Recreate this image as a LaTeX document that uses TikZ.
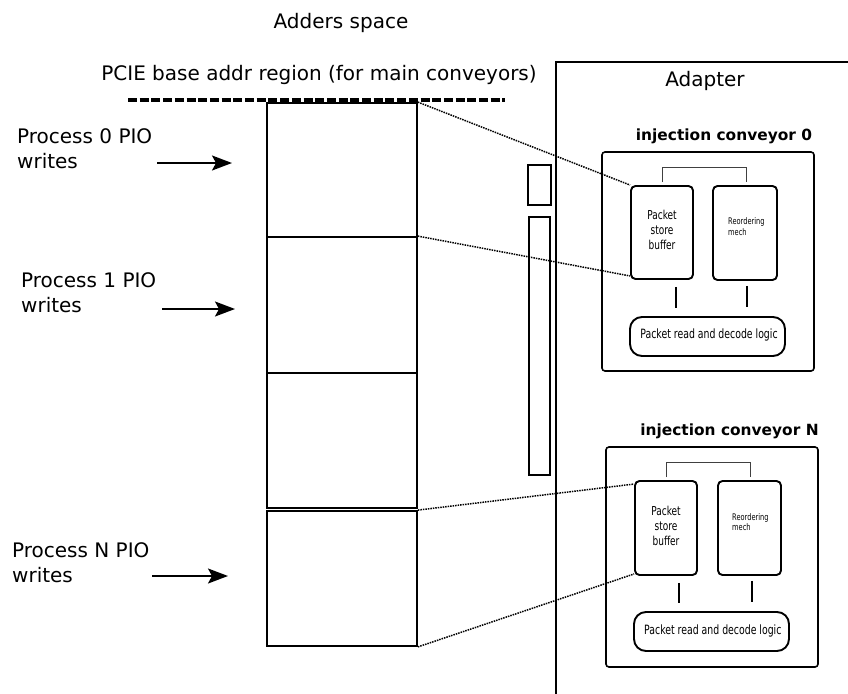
\documentclass[tikz,border=0pt]{standalone}
\usepackage{fontspec}
\setmainfont{DejaVu Sans}
\newfontfamily\condf[FakeStretch=0.73]{DejaVu Sans}
\usetikzlibrary{arrows.meta}
\tikzset{
  membox/.style={draw, line width=1.8pt, minimum width=150pt, inner sep=0pt},
  bigtxt/.style={font=\fontsize{20}{25}\selectfont, inner sep=0pt},
  convtitle/.style={font=\fontsize{15.4}{18}\selectfont\bfseries, inner sep=0pt, anchor=base},
  convbox/.style={draw, line width=1.6pt, rounded corners=3pt, minimum width=212pt, minimum height=219pt, inner sep=0pt},
  psbbox/.style={draw, line width=1.9pt, rounded corners=4.5pt, minimum width=62pt, minimum height=93pt, inner sep=0pt},
  rmbox/.style={draw, line width=1.9pt, rounded corners=4.5pt, minimum width=64pt, minimum height=94pt, inner sep=0pt},
  prdlbox/.style={draw, line width=1.9pt, rounded corners=12pt, minimum width=155pt, minimum height=39pt, inner sep=0pt},
  psbtxt/.style={font=\condf\fontsize{12.3}{15}\selectfont, inner sep=0pt, align=center},
  rmtxt/.style={font=\condf\fontsize{9.1}{10.7}\selectfont, inner sep=0pt, align=left},
  prdltxt/.style={font=\condf\fontsize{12.8}{15}\selectfont, inner sep=0pt, anchor=base},
  smallrect/.style={draw, line width=1.7pt, inner sep=0pt},
  dotline/.style={line width=1.5pt, dash pattern=on 1.5pt off 1pt},
  bracket/.style={line width=1pt, draw=black!75},
  stub/.style={line width=1.2pt},
  pio/.style={line width=1.8pt, -{Stealth[length=20pt,width=15pt,inset=4pt]}},
  thickdash/.style={line width=4.8pt, dash pattern=on 9pt off 2.7pt},
  adapterline/.style={line width=1.8pt}
}
\begin{document}
\begin{tikzpicture}[x=1pt,y=-1pt]
\useasboundingbox (0,0) rectangle (848,693);

% titles
\node[bigtxt, anchor=base] (addr) at (341,29) {Adders space};
\node[bigtxt, anchor=base] (pcie) at (319,80) {PCIE base addr region (for main conveyors)};
\coordinate (dashL) at (128,100);
\coordinate (dashR) at (505,100);
\draw[thickdash] (dashL) -- (dashR);

% memory stack
\node[membox, minimum height=134pt] (m0) at (342,170) {};
\node[membox, minimum height=136pt] (m1) at (342,305) {};
\node[membox, minimum height=135pt] (m2) at (342,440.5) {};
\node[membox, minimum height=135pt] (m3) at (342,578.5) {};

% process labels (base = last line)
\node[bigtxt, anchor=base west, align=left] (p0) at (17,168) {Process 0 PIO\\writes};
\node[bigtxt, anchor=base west, align=left] (p1) at (21,312) {Process 1 PIO\\writes};
\node[bigtxt, anchor=base west, align=left] (pN) at (12,582) {Process N PIO\\writes};
\coordinate (a0s) at (157,163); \coordinate (a0e) at (232,163);
\coordinate (a1s) at (162,309); \coordinate (a1e) at (235,309);
\coordinate (aNs) at (152,576); \coordinate (aNe) at (228,576);
\draw[pio] (a0s) -- (a0e);
\draw[pio] (a1s) -- (a1e);
\draw[pio] (aNs) -- (aNe);

% adapter
\coordinate (adTR) at (849,62);
\coordinate (adTL) at (556,62);
\coordinate (adBL) at (556,694);
\draw[adapterline] (adTR) -- (adTL) -- (adBL);
\node[bigtxt, anchor=base] (adapter) at (705,86) {Adapter};

% small rects
\node[smallrect, minimum width=23pt, minimum height=40pt] (s1) at (539.5,185) {};
\node[smallrect, minimum width=21pt, minimum height=258pt] (s2) at (539.5,346) {};

% conveyor 0
\node[convtitle] (t0) at (724,140) {injection conveyor 0};
\node[convbox] (c0) at (708,261.5) {};
\node[psbbox] (psb0) at (662,232.5) {};
\node[rmbox] (rm0) at (745,233) {};
\node[prdlbox] (prdl0) at (707.5,336.5) {};
\node[psbtxt, anchor=base] (psb0t) at (662,249.5) {Packet\\store\\buffer};
\node[rmtxt, anchor=base west] (rm0t) at (728,235.5) {Reordering\\mech};
\node[prdltxt] (prdl0t) at (709,338) {Packet read and decode logic};
\draw[bracket] ([xshift=0.5pt,yshift=3pt]psb0.north) -- ++(0,-15) -| ([xshift=1pt,yshift=3pt]rm0.north);
\draw[stub] ([xshift=14pt,yshift=-7pt]psb0.south) -- ([xshift=14pt,yshift=8pt]psb0.south |- prdl0.north);
\draw[stub] ([xshift=2pt,yshift=-5pt]rm0.south) -- ([xshift=2pt,yshift=9pt]rm0.south |- prdl0.north);

% conveyor N
\node[convtitle] (tN) at (729.5,435) {injection conveyor N};
\node[convbox, minimum height=220pt] (cN) at (712,557) {};
\node[psbbox, minimum height=94pt] (psbN) at (666,528) {};
\node[rmbox, minimum width=63pt] (rmN) at (749.5,528) {};
\node[prdlbox] (prdlN) at (711.5,631.5) {};
\node[psbtxt, anchor=base] (psbNt) at (666,545) {Packet\\store\\buffer};
\node[rmtxt, anchor=base west] (rmNt) at (732,530.7) {Reordering\\mech};
\node[prdltxt] (prdlNt) at (712.8,634) {Packet read and decode logic};
\draw[bracket] ([yshift=3pt]psbN.north) -- ++(0,-15) -| ([xshift=0.5pt,yshift=3pt]rmN.north);
\draw[stub] ([xshift=13pt,yshift=-7pt]psbN.south) -- ([xshift=13pt,yshift=8pt]psbN.south |- prdlN.north);
\draw[stub] ([xshift=2.5pt,yshift=-5pt]rmN.south) -- ([xshift=2.5pt,yshift=9pt]rmN.south |- prdlN.north);

% dotted projections
\draw[dotline] (m0.north east) -- (psb0.north west);
\draw[dotline] (m1.north east) -- ([yshift=4pt]psb0.south west);
\draw[dotline] (m3.north east) -- ([yshift=-4pt]psbN.north west);
\draw[dotline] (m3.south east) -- ([yshift=2pt]psbN.south west);
\end{tikzpicture}
\end{document}
